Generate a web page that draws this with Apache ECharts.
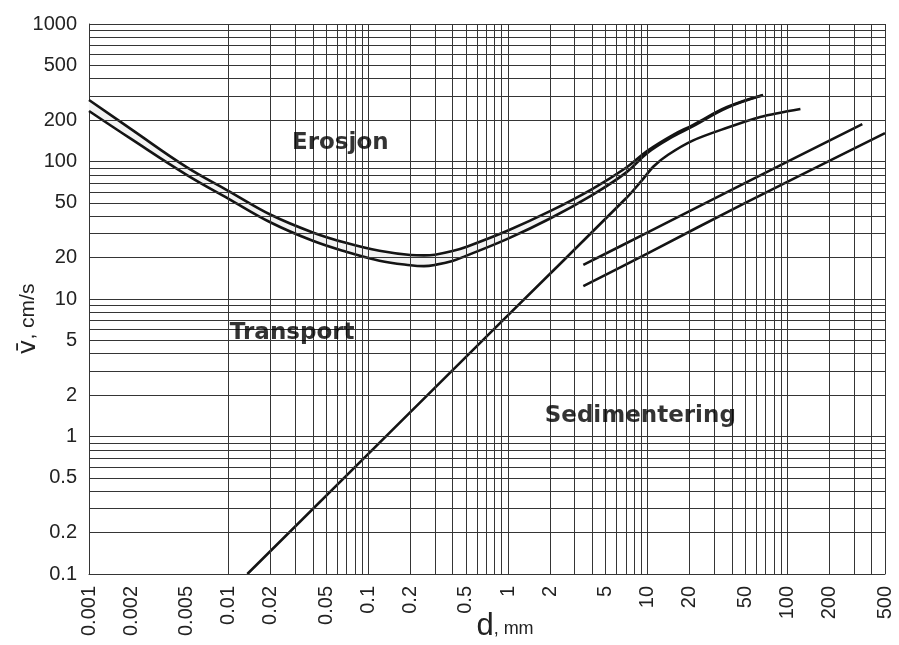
<!DOCTYPE html>
<html>
<head>
<meta charset="utf-8">
<script src="https://cdn.jsdelivr.net/npm/echarts@6/dist/echarts.min.js"></script>
<style>html,body{margin:0;padding:0;background:#fff;}#c{width:899px;height:645px;}</style>
</head>
<body>
<div id="c"></div>
<script>
// ---- Data ----
const xTickLabels = [0.001,0.002,0.005,0.01,0.02,0.05,0.1,0.2,0.5,1,2,5,10,20,50,100,200,500];
const yTickLabels = [0.1,0.2,0.5,1,2,5,10,20,50,100,200,500,1000];

// Erosion band (grain size d in mm, velocity in cm/s)
const bandD     = [0.001,0.002,0.005,0.01,0.02,0.04,0.07,0.12,0.2,0.25,0.3,0.4,0.5,1,2,4,7,10,15,21,37,67];
const bandUpper = [280,172,91,61,41,30.5,25.5,22.4,20.9,20.75,21,22.3,23.9,31.5,43.5,63,90,120,155,184,249,305];
const bandLower = [233,146,80,53.5,36,26.5,22,19,17.6,17.35,17.7,18.9,20.6,27.5,38.5,57,83,116,151,180,246,303];

// Settling / sedimentation line
const settleD = [0.0136,0.88,7,9,11,14,21,37,64,124];
const settleV = [0.1,6.7,54,72,92,112,142,176,211,241];

// Two parallel lines on the right
const lineAD = [3.46,10,50,344];
const lineAV = [17.7,30.5,70,187];
const lineBD = [3.46,10,50,500];
const lineBV = [12.4,21.5,50,161];

// Region labels
const regionLabels = [
  {name:'Erosjon', d:0.063, v:136},
  {name:'Transport', d:0.0285, v:5.66},
  {name:'Sedimentering', d:8.85, v:1.41}
];

// ---- grid line values (log paper) ----
function logGrid(lo, hi){
  const out=[];
  for(let e=Math.round(Math.log10(lo)); e<=Math.round(Math.log10(hi)); e++){
    for(let m=1;m<=9;m++){
      const v=parseFloat((m*Math.pow(10,e)).toPrecision(6));
      if(v>=lo-1e-12 && v<=hi+1e-9) out.push(v);
    }
  }
  return out;
}
const xGrid = logGrid(0.001,500);
const yGrid = logGrid(0.1,1000);

const pairs = (xs,ys)=>xs.map((x,i)=>[x,ys[i]]);
const lineColor='#141414';
const gridColor='#353535';
const font='"Liberation Sans", Arial, sans-serif';

const chart = echarts.init(document.getElementById('c'), null, {renderer:'canvas'});
const curveStyle = {color:lineColor, width:2.6};

chart.setOption({
  backgroundColor:'#fff',
  animation:false,
  grid:{left:89, right:14, top:24, bottom:71, containLabel:false, outerBoundsMode:'none'},
  xAxis:{
    type:'log', min:0.001, max:500, logBase:10,
    splitLine:{show:false}, minorSplitLine:{show:false},
    axisTick:{show:false},
    axisLine:{show:true, lineStyle:{color:gridColor, width:1}},
    axisLabel:{
      customValues:xTickLabels, rotate:90, margin:12,
      fontSize:20, color:'#222', fontFamily:font,
      formatter:v=>String(parseFloat(Number(v).toPrecision(6)))
    },
    name:'{d|d}{mm|, mm}', nameLocation:'middle', nameGap:37, nameMoveOverlap:false,
    nameTextStyle:{padding:[0,0,0,36], rich:{
      d:{fontSize:31, color:'#222', fontFamily:font},
      mm:{fontSize:18, color:'#222', fontFamily:font, padding:[6,0,0,0]}
    }}
  },
  yAxis:{
    type:'log', min:0.1, max:1000, logBase:10,
    splitLine:{show:false}, minorSplitLine:{show:false},
    axisTick:{show:false},
    axisLine:{show:true, lineStyle:{color:gridColor, width:1}},
    axisLabel:{
      customValues:yTickLabels, margin:12,
      fontSize:20, color:'#222', fontFamily:font,
      formatter:v=>String(parseFloat(Number(v).toPrecision(6)))
    },
    name:'{v|v\u0304}{r|, cm/s}', nameLocation:'middle', nameGap:48, nameRotate:90, nameMoveOverlap:false,
    nameTextStyle:{padding:[0,40,0,0], rich:{
      v:{fontSize:25, color:'#222', fontFamily:'"DejaVu Sans", sans-serif'},
      r:{fontSize:21, color:'#222', fontFamily:font}
    }}
  },
  series:[
    { // grid lines
      type:'line', data:[[1,1]], showSymbol:false, symbol:'none', silent:true, z:1,
      lineStyle:{width:0},
      markLine:{
        silent:true, symbol:['none','none'], animation:false,
        label:{show:false},
        lineStyle:{color:gridColor, width:1, type:'solid'},
        data:[...xGrid.map(v=>({xAxis:v})), ...yGrid.map(v=>({yAxis:v}))]
      }
    },
    { // band fill
      type:'custom', z:3, silent:true, data:[[1,1]],
      renderItem:(params, api)=>{
        const pts=[];
        bandD.forEach((d,i)=>pts.push(api.coord([d,bandUpper[i]])));
        for(let i=bandD.length-1;i>=0;i--) pts.push(api.coord([bandD[i],bandLower[i]]));
        return {type:'polygon', shape:{points:pts}, style:{fill:'#f3f3f3'}};
      }
    },
    {type:'line', z:4, data:pairs(bandD,bandUpper), showSymbol:false, symbol:'none', smooth:0.4, lineStyle:curveStyle},
    {type:'line', z:4, data:pairs(bandD,bandLower), showSymbol:false, symbol:'none', smooth:0.4, lineStyle:curveStyle},
    {type:'line', z:4, data:pairs(settleD,settleV), showSymbol:false, symbol:'none', smooth:0.3, lineStyle:curveStyle},
    {type:'line', z:4, data:pairs(lineAD,lineAV), showSymbol:false, symbol:'none', smooth:0.3, lineStyle:curveStyle},
    {type:'line', z:4, data:pairs(lineBD,lineBV), showSymbol:false, symbol:'none', smooth:0.3, lineStyle:curveStyle},
    {
      type:'scatter', z:5, symbolSize:0, silent:true,
      data:regionLabels.map(r=>({name:r.name, value:[r.d,r.v]})),
      label:{show:true, position:'inside', formatter:p=>p.name,
        fontSize:23, fontWeight:'bold', color:'#000', fontFamily:'"DejaVu Sans", sans-serif'}
    }
  ]
});
</script>
</body>
</html>
